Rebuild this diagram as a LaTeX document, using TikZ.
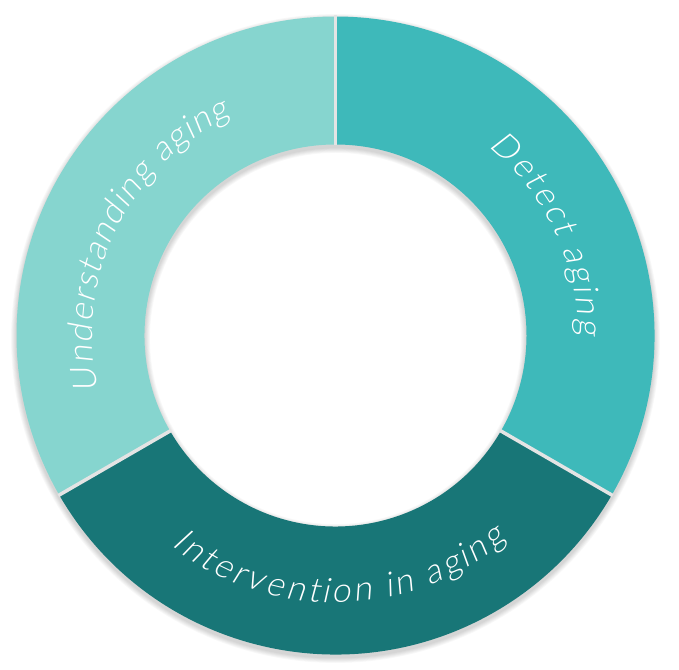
\documentclass[tikz,border=0pt]{standalone}
\usepackage{fontspec}
\newfontfamily\lblfont[FakeSlant=0.18]{Lato Light}
\usetikzlibrary{decorations.text}
\definecolor{cLight}{HTML}{86D5CF}
\definecolor{cMid}{HTML}{3EB9BA}
\definecolor{cDark}{HTML}{187677}
\definecolor{cGap}{HTML}{E4E4E4}
\tikzset{
  gapline/.style={draw=cGap, line width=3.5pt},
  ringtext/.style={decorate, decoration={text effects along path, text={#1},
    text effects/.cd, text along path, fit text to path,
    characters={text=white, font=\lblfont\fontsize{34}{34}\selectfont, anchor=base, inner sep=0pt}}}
}
\begin{document}
\begin{tikzpicture}[x=1pt,y=1pt]
\useasboundingbox (0,0) rectangle (679,669);
\fill[white] (0,0) rectangle (679,669);
\begin{scope}[shift={(335.5,333.5)}]
  % soft shadow
  \foreach \k in {1,...,6}{
    \fill[black, opacity=0.028, even odd rule] (0,-3) circle (319+\k*0.9) (0,-3) circle (191-\k*0.9);
  }
  % segments
  \fill[cLight] (90:319) arc[start angle=90, end angle=210, radius=319]
     -- (210:191) arc[start angle=210, end angle=90, radius=191] -- cycle;
  \fill[cMid] (-30:319) arc[start angle=-30, end angle=90, radius=319]
     -- (90:191) arc[start angle=90, end angle=-30, radius=191] -- cycle;
  \fill[cDark] (210:319) arc[start angle=210, end angle=330, radius=319]
     -- (330:191) arc[start angle=330, end angle=210, radius=191] -- cycle;
  % separators
  \coordinate (g1a) at (90:190); \coordinate (g1b) at (90:320);
  \coordinate (g2a) at (-30:190); \coordinate (g2b) at (-30:320);
  \coordinate (g3a) at (210:190); \coordinate (g3b) at (210:320);
  \draw[gapline] (g1a) -- (g1b);
  \draw[gapline] (g2a) -- (g2b);
  \draw[gapline] (g3a) -- (g3b);
  % labels
  \path[ringtext={Understanding aging}] (193:243) arc[start angle=193, end angle=115.5, radius=243];
  \path[ringtext={Detect aging}] (51:243) arc[start angle=51, end angle=0, radius=243];
  \path[ringtext={Intervention in aging}] (232:267) arc[start angle=232, end angle=310, radius=267];
\end{scope}
\end{tikzpicture}
\end{document}
